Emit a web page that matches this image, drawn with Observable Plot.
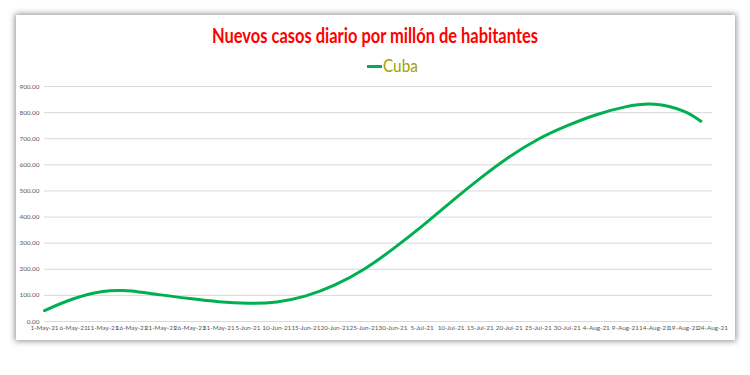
<!DOCTYPE html>
<html>
<head>
<meta charset="utf-8">
<script src="https://cdn.jsdelivr.net/npm/d3@7"></script>
<script src="https://cdn.jsdelivr.net/npm/@observablehq/plot@0.6"></script>
<style>
  html, body { margin: 0; padding: 0; background: #ffffff; }
  #page { position: relative; width: 750px; height: 375px; overflow: hidden; background: #ffffff; font-family: Lato, sans-serif; }
  #card { position: absolute; left: 16px; top: 15px; width: 719px; height: 325px; background: #fff; box-shadow: 0 0 6px 1px rgba(0,0,0,0.45); }
  #title { position: absolute; left: 0; top: 23px; width: 750px; text-align: center; }
  #title span { display: inline-block; color: #ff0000; font-weight: bold; font-size: 20px; font-family: Lato, "Open Sans", sans-serif; transform-origin: center; white-space: nowrap; }
  #legend { position: absolute; left: 0; top: 54px; width: 790px; text-align: center; }
  #legend .lt { display: inline-block; color: #a0a000; font-size: 18px; font-family: Lato, "Open Sans", sans-serif; transform-origin: left center; }
  #legend .sw { display: inline-block; width: 15px; height: 3px; background: #00b050; vertical-align: middle; margin-right: 1px; position: relative; top: -1px; }
  #chart { position: absolute; left: 0; top: 70px; }
</style>
</head>
<body>
<div id="page">
  <div id="card"></div>
  <div id="title"><span></span></div>
  <div id="legend"></div>
  <div id="chart"></div>
</div>
<script>
const titleText = "Nuevos casos diario por millón de habitantes";
const seriesName = "Cuba";

const dates = ["2021-05-01","2021-05-06","2021-05-11","2021-05-14","2021-05-16","2021-05-21","2021-05-26","2021-05-31",
  "2021-06-05","2021-06-10","2021-06-15","2021-06-20","2021-06-25","2021-06-30","2021-07-05","2021-07-10",
  "2021-07-15","2021-07-20","2021-07-25","2021-07-30","2021-08-04","2021-08-09","2021-08-14","2021-08-19","2021-08-22"];
const cases = [42, 87, 115, 119, 117, 102, 88, 76,
  70, 75, 98, 140, 200, 278, 365, 458,
  548, 630, 698, 750, 792, 822, 832, 806, 767];

const xTicks = ["2021-05-01","2021-05-06","2021-05-11","2021-05-16","2021-05-21","2021-05-26","2021-05-31",
  "2021-06-05","2021-06-10","2021-06-15","2021-06-20","2021-06-25","2021-06-30","2021-07-05","2021-07-10",
  "2021-07-15","2021-07-20","2021-07-25","2021-07-30","2021-08-04","2021-08-09","2021-08-14","2021-08-19","2021-08-24"];
const yTicks = [0, 100, 200, 300, 400, 500, 600, 700, 800, 900];

const tSpan = document.querySelector("#title span");
tSpan.textContent = titleText;
document.getElementById("legend").innerHTML = '<span class="sw"></span><span class="lt">' + seriesName + '</span>';
// squeeze the title to a Calibri-like narrow width
const tw = tSpan.getBoundingClientRect().width;
tSpan.style.transform = "scaleX(" + (326 / tw) + ")";
const lt = document.querySelector("#legend .lt");
lt.style.transform = "scaleX(0.85)";

const data = dates.map((d, i) => ({date: new Date(d + "T00:00:00Z"), value: cases[i]}));
const tickDates = xTicks.map(d => new Date(d + "T00:00:00Z"));
const fmtDate = d3.utcFormat("%-d-%b-%y");

const chart = Plot.plot({
  width: 750,
  height: 270,
  marginTop: 16,
  marginBottom: 19,
  marginLeft: 44,
  marginRight: 38,
  style: { background: "transparent", fontFamily: "Lato, sans-serif", fontSize: "6.4px", color: "#595959" },
  x: { type: "utc", domain: [tickDates[0], tickDates[tickDates.length - 1]], ticks: tickDates, tickFormat: fmtDate, tickSize: 0, tickPadding: 4, label: null },
  y: { domain: [0, 900], ticks: yTicks, tickFormat: d => d.toFixed(2), tickSize: 0, tickPadding: 5, label: null },
  marks: [
    Plot.gridY(yTicks, { stroke: "#d9d9d9", strokeOpacity: 1, strokeWidth: 1 }),
    Plot.line(data, { x: "date", y: "value", stroke: "#00b050", strokeWidth: 3, curve: "natural" })
  ]
});
document.getElementById("chart").appendChild(chart);
</script>
</body>
</html>
